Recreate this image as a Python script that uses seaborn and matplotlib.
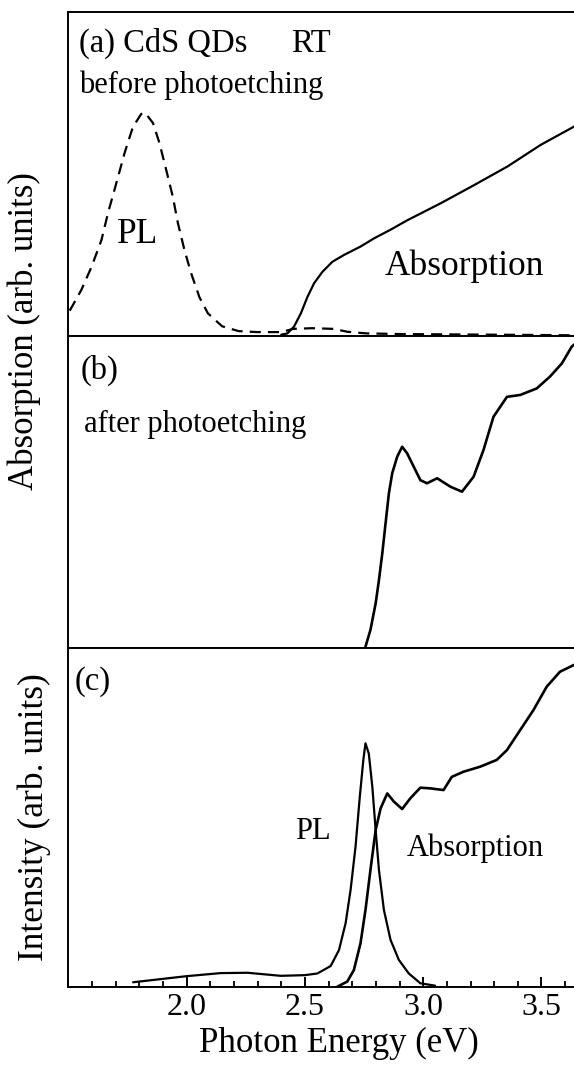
import matplotlib
matplotlib.use("Agg")
import matplotlib.pyplot as plt
import seaborn as sns
from matplotlib.ticker import MultipleLocator

sns.set_style("ticks", {"text.color": "black", "axes.labelcolor": "black",
                        "xtick.color": "black", "axes.edgecolor": "black"})
plt.rcParams['font.family'] = ['Liberation Serif', 'DejaVu Serif']

# (a) before photoetching
pl_a_E = [1.506, 1.555, 1.598, 1.640, 1.668, 1.703, 1.738, 1.773, 1.808, 1.818, 1.829,
          1.858, 1.885, 1.914, 1.942, 1.963, 1.991, 2.019, 2.054, 2.09, 2.15, 2.22, 2.30,
          2.40, 2.45, 2.53, 2.62, 2.68, 2.76, 2.9, 3.1, 3.3, 3.5, 3.65]
pl_a_I = [0.078, 0.142, 0.213, 0.296, 0.380, 0.472, 0.565, 0.645, 0.685, 0.690, 0.685,
          0.657, 0.596, 0.512, 0.429, 0.349, 0.265, 0.194, 0.120, 0.070, 0.030, 0.015, 0.012,
          0.012, 0.022, 0.024, 0.022, 0.013, 0.008, 0.006, 0.005, 0.004, 0.003, 0.002]
abs_a_E = [2.40, 2.426, 2.454, 2.483, 2.511, 2.539, 2.574, 2.616, 2.665, 2.735, 2.794,
           2.862, 2.935, 3.075, 3.216, 3.356, 3.497, 3.637, 3.65]
abs_a_I = [0.004, 0.008, 0.029, 0.070, 0.121, 0.163, 0.198, 0.229, 0.250, 0.276, 0.302,
           0.328, 0.358, 0.410, 0.466, 0.523, 0.590, 0.646, 0.652]

# (b) after photoetching
abs_b_E = [2.756, 2.777, 2.799, 2.813, 2.827, 2.841, 2.855, 2.869, 2.89, 2.911, 2.932,
           2.96, 2.988, 3.016, 3.059, 3.115, 3.164, 3.213, 3.255, 3.297, 3.354, 3.41,
           3.48, 3.536, 3.586, 3.628, 3.65]
abs_b_I = [0.004, 0.058, 0.143, 0.218, 0.303, 0.400, 0.496, 0.560, 0.613, 0.645, 0.624,
           0.581, 0.538, 0.528, 0.544, 0.517, 0.501, 0.549, 0.635, 0.741, 0.805, 0.811,
           0.832, 0.870, 0.912, 0.966, 0.980]

# (c) PL + absorption
pl_c_E = [1.774, 2.0, 2.144, 2.258, 2.398, 2.5, 2.553, 2.609, 2.644, 2.672, 2.693, 2.714,
          2.732, 2.747, 2.756, 2.770, 2.785, 2.799, 2.813, 2.834, 2.862, 2.897, 2.939,
          2.988, 3.05]
pl_c_I = [0.014, 0.032, 0.041, 0.042, 0.033, 0.035, 0.040, 0.062, 0.109, 0.188, 0.286,
          0.414, 0.561, 0.670, 0.719, 0.689, 0.591, 0.463, 0.345, 0.227, 0.139, 0.080,
          0.040, 0.011, 0.004]
abs_c_E = [2.637, 2.679, 2.707, 2.735, 2.756, 2.777, 2.799, 2.82, 2.848, 2.876, 2.911,
           2.946, 2.988, 3.03, 3.086, 3.121, 3.17, 3.241, 3.311, 3.354, 3.41, 3.466,
           3.522, 3.578, 3.637, 3.65]
abs_c_I = [0.001, 0.016, 0.050, 0.129, 0.227, 0.345, 0.463, 0.527, 0.571, 0.547, 0.525,
           0.557, 0.588, 0.586, 0.581, 0.620, 0.635, 0.650, 0.670, 0.699, 0.758, 0.817,
           0.886, 0.930, 0.950, 0.952]

xticks = [2.0, 2.5, 3.0, 3.5]

fig = plt.figure(figsize=(5.74, 10.69), dpi=100)
left, width = 0.119, 0.8862
ax_a = fig.add_axes([left, 0.6857, width, 0.3031])
ax_b = fig.add_axes([left, 0.3938, width, 0.2919])
ax_c = fig.add_axes([left, 0.0767, width, 0.3171])

lw = 1.6
line_kw = dict(color="black", errorbar=None, solid_joinstyle="round")
sns.lineplot(x=pl_a_E, y=pl_a_I, ax=ax_a, lw=lw, linestyle=(0, (5, 3.2)),
             color="black", errorbar=None)
sns.lineplot(x=abs_a_E, y=abs_a_I, ax=ax_a, lw=lw, **line_kw)
sns.lineplot(x=abs_b_E, y=abs_b_I, ax=ax_b, lw=1.9, **line_kw)
sns.lineplot(x=pl_c_E, y=pl_c_I, ax=ax_c, lw=lw, **line_kw)
sns.lineplot(x=abs_c_E, y=abs_c_I, ax=ax_c, lw=1.9, **line_kw)

for ax in (ax_a, ax_b, ax_c):
    ax.set_xlim(1.5, 3.65)
    ax.set_ylim(0, 1)
    ax.set_yticks([])
    for s in ax.spines.values():
        s.set_linewidth(1.4)
        s.set_color("black")

for ax in (ax_a, ax_b):
    ax.set_xticks([])
    ax.tick_params(axis="x", which="both", bottom=False, labelbottom=False)

ax_c.set_xticks(xticks)
ax_c.set_xticklabels([f"{t:.1f}" for t in xticks])
ax_c.xaxis.set_minor_locator(MultipleLocator(0.1))
ax_c.tick_params(axis="x", which="major", direction="in", bottom=True, length=7,
                 width=1.4, labelsize=23, pad=4, color="black", labelcolor="black")
ax_c.tick_params(axis="x", which="minor", direction="in", bottom=True, length=4.2,
                 width=1.3, color="black")
ax_c.set_xlabel("Photon Energy (eV)", fontsize=25, x=0.531, labelpad=4, color="black")

txt = dict(ha="left", va="baseline", color="black")

# panel texts
ax_a.text(0.0204, 0.877, "(a) CdS QDs", transform=ax_a.transAxes, fontsize=23.5, **txt)
ax_a.text(0.438, 0.877, "RT", transform=ax_a.transAxes, fontsize=23.5, **txt)
ax_a.text(0.0204, 0.749, "before photoetching", transform=ax_a.transAxes, fontsize=22, **txt)
ax_a.text(0.0957, 0.286, "PL", transform=ax_a.transAxes, fontsize=25.5, **txt)
ax_a.text(0.6226, 0.188, "Absorption", transform=ax_a.transAxes, fontsize=25.5, **txt)

ax_b.text(0.0241, 0.862, "(b)", transform=ax_b.transAxes, fontsize=23.5, **txt)
ax_b.text(0.031, 0.693, "after photoetching", transform=ax_b.transAxes, fontsize=22, **txt)

ax_c.text(0.0132, 0.876, "(c)", transform=ax_c.transAxes, fontsize=23.5, **txt)
ax_c.text(0.445, 0.436, "PL", transform=ax_c.transAxes, fontsize=22, **txt)
ax_c.text(0.665, 0.386, "Absorption", transform=ax_c.transAxes, fontsize=22, **txt)

fig.text(0.043, 0.690, "Absorption (arb. units)", rotation=90, fontsize=25,
         ha="center", va="center", color="black")
fig.text(0.059, 0.236, "Intensity (arb. units)", rotation=90, fontsize=25.5,
         ha="center", va="center", color="black")

fig.savefig("out.png", dpi=100)
